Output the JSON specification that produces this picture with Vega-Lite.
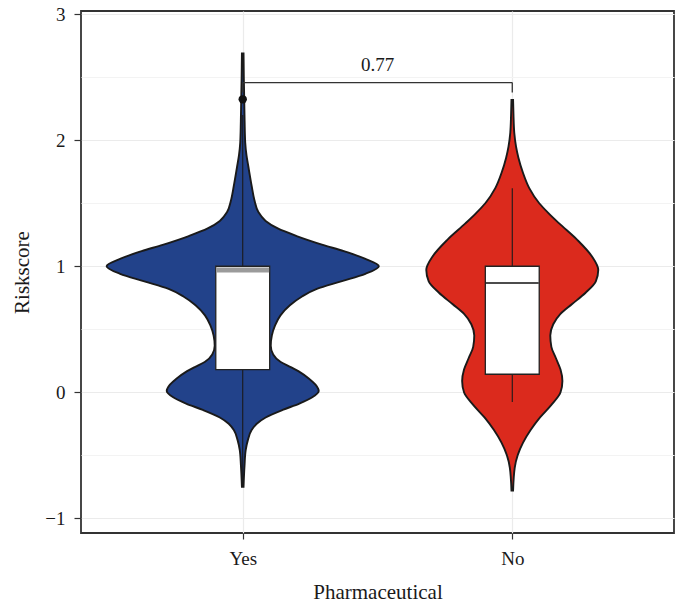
{
  "$schema": "https://vega.github.io/schema/vega-lite/v6.json",
  "width": 593,
  "height": 522,
  "autosize": {"type": "none"},
  "padding": {"left": 81, "top": 11, "right": 4, "bottom": 76},
  "background": "white",
  "config": {
    "font": "Liberation Serif",
    "view": {"stroke": "#333333", "strokeWidth": 1.8},
    "axis": {
      "domain": false,
      "tickColor": "#333333",
      "tickWidth": 1.2,
      "labelColor": "#1a1a1a",
      "labelFontSize": 19,
      "labelFont": "Liberation Serif",
      "titleFont": "Liberation Serif",
      "titleFontSize": 21,
      "titleFontWeight": "normal",
      "titleColor": "#1a1a1a",
      "gridColor": "#ebebeb",
      "gridWidth": 1.2
    },
    "axisX": {"tickSize": 6, "labelPadding": 10, "titlePadding": 13},
    "axisY": {"tickSize": 7, "labelPadding": 9, "titlePadding": 12}
  },
  "datasets": {
    "violin": [
      {"group": "Yes", "score": 2.69, "half": 0.003},
      {"group": "Yes", "score": 2.5, "half": 0.004},
      {"group": "Yes", "score": 2.32, "half": 0.0056},
      {"group": "Yes", "score": 2.15, "half": 0.007},
      {"group": "Yes", "score": 1.98, "half": 0.0093},
      {"group": "Yes", "score": 1.88, "half": 0.014},
      {"group": "Yes", "score": 1.79, "half": 0.021},
      {"group": "Yes", "score": 1.64, "half": 0.033},
      {"group": "Yes", "score": 1.52, "half": 0.044},
      {"group": "Yes", "score": 1.43, "half": 0.058},
      {"group": "Yes", "score": 1.36, "half": 0.085},
      {"group": "Yes", "score": 1.3, "half": 0.13},
      {"group": "Yes", "score": 1.24, "half": 0.2},
      {"group": "Yes", "score": 1.17, "half": 0.297},
      {"group": "Yes", "score": 1.12, "half": 0.375},
      {"group": "Yes", "score": 1.06, "half": 0.453},
      {"group": "Yes", "score": 1.0, "half": 0.505},
      {"group": "Yes", "score": 0.94, "half": 0.455},
      {"group": "Yes", "score": 0.88, "half": 0.365},
      {"group": "Yes", "score": 0.82, "half": 0.275},
      {"group": "Yes", "score": 0.76, "half": 0.22},
      {"group": "Yes", "score": 0.69, "half": 0.175},
      {"group": "Yes", "score": 0.61, "half": 0.14},
      {"group": "Yes", "score": 0.53, "half": 0.12},
      {"group": "Yes", "score": 0.45, "half": 0.108},
      {"group": "Yes", "score": 0.37, "half": 0.104},
      {"group": "Yes", "score": 0.3, "half": 0.113},
      {"group": "Yes", "score": 0.24, "half": 0.141},
      {"group": "Yes", "score": 0.2, "half": 0.178},
      {"group": "Yes", "score": 0.16, "half": 0.212},
      {"group": "Yes", "score": 0.11, "half": 0.245},
      {"group": "Yes", "score": 0.06, "half": 0.27},
      {"group": "Yes", "score": 0.01, "half": 0.282},
      {"group": "Yes", "score": -0.04, "half": 0.258},
      {"group": "Yes", "score": -0.09, "half": 0.21},
      {"group": "Yes", "score": -0.14, "half": 0.148},
      {"group": "Yes", "score": -0.2, "half": 0.085},
      {"group": "Yes", "score": -0.25, "half": 0.052},
      {"group": "Yes", "score": -0.3, "half": 0.033},
      {"group": "Yes", "score": -0.38, "half": 0.019},
      {"group": "Yes", "score": -0.46, "half": 0.011},
      {"group": "Yes", "score": -0.58, "half": 0.0067},
      {"group": "Yes", "score": -0.75, "half": 0.003},
      {"group": "No", "score": 2.32, "half": 0.003},
      {"group": "No", "score": 2.2, "half": 0.0045},
      {"group": "No", "score": 2.06, "half": 0.0074},
      {"group": "No", "score": 1.95, "half": 0.014},
      {"group": "No", "score": 1.86, "half": 0.023},
      {"group": "No", "score": 1.74, "half": 0.04},
      {"group": "No", "score": 1.62, "half": 0.063},
      {"group": "No", "score": 1.5, "half": 0.1},
      {"group": "No", "score": 1.42, "half": 0.135},
      {"group": "No", "score": 1.34, "half": 0.174},
      {"group": "No", "score": 1.21, "half": 0.241},
      {"group": "No", "score": 1.08, "half": 0.295},
      {"group": "No", "score": 0.97, "half": 0.319},
      {"group": "No", "score": 0.88, "half": 0.31},
      {"group": "No", "score": 0.79, "half": 0.272},
      {"group": "No", "score": 0.7, "half": 0.222},
      {"group": "No", "score": 0.62, "half": 0.178},
      {"group": "No", "score": 0.54, "half": 0.152},
      {"group": "No", "score": 0.45, "half": 0.141},
      {"group": "No", "score": 0.36, "half": 0.145},
      {"group": "No", "score": 0.27, "half": 0.162},
      {"group": "No", "score": 0.18, "half": 0.179},
      {"group": "No", "score": 0.09, "half": 0.186},
      {"group": "No", "score": 0.0, "half": 0.179},
      {"group": "No", "score": -0.1, "half": 0.145},
      {"group": "No", "score": -0.2, "half": 0.103},
      {"group": "No", "score": -0.3, "half": 0.068},
      {"group": "No", "score": -0.4, "half": 0.04},
      {"group": "No", "score": -0.5, "half": 0.02},
      {"group": "No", "score": -0.6, "half": 0.009},
      {"group": "No", "score": -0.78, "half": 0.003}
    ],
    "box": [
      {"group": "Yes", "lower": -0.75, "q1": 0.18, "median": 0.97, "q3": 1.0, "upper": 2.2},
      {"group": "No", "lower": -0.077, "q1": 0.143, "median": 0.867, "q3": 1.0, "upper": 1.62}
    ],
    "outliers": [
      {"group": "Yes", "score": 2.325}
    ],
    "bracket": [
      {"xa": 1, "xb": 2, "ya": 2.458, "yb": 2.458},
      {"xa": 1, "xb": 1, "ya": 2.379, "yb": 2.458},
      {"xa": 2, "xb": 2, "ya": 2.379, "yb": 2.458}
    ],
    "pvalue": [
      {"label": "0.77", "xm": 1.5, "ym": 2.6}
    ]
  },
  "layer": [
    {
      "data": {"name": "violin"},
      "transform": [
        {"calculate": "datum.group === 'Yes' ? 1 : 2", "as": "pos"},
        {"calculate": "datum.pos - datum.half", "as": "lo"},
        {"calculate": "datum.pos + datum.half", "as": "hi"}
      ],
      "mark": {"type": "area", "orient": "horizontal", "interpolate": "monotone", "stroke": "#1a1a1a", "strokeWidth": 1.9, "fillOpacity": 1},
      "encoding": {
        "x": {
          "field": "lo", "type": "quantitative", "title": "Pharmaceutical",
          "scale": {"domain": [0.4, 2.6], "nice": false, "zero": false},
          "axis": {
            "values": [1, 2],
            "labelExpr": "datum.value === 1 ? 'Yes' : 'No'"
          }
        },
        "x2": {"field": "hi"},
        "y": {
          "field": "score", "type": "quantitative", "title": "Riskscore",
          "scale": {"domain": [-1.117, 3.026], "nice": false, "zero": false},
          "axis": {
            "values": [-1, -0.5, 0, 0.5, 1, 1.5, 2, 2.5, 3],
            "labelExpr": "datum.value % 1 === 0 ? format(datum.value, 'd') : ''",
            "tickOpacity": {"condition": {"test": "datum.value % 1 !== 0", "value": 0}, "value": 1},
            "gridColor": {"condition": {"test": "datum.value % 1 !== 0", "value": "#f3f3f3"}, "value": "#ebebeb"}
          }
        },
        "fill": {"field": "group", "type": "nominal", "scale": {"domain": ["Yes", "No"], "range": ["#22428a", "#db2a1d"]}, "legend": null}
      }
    },
    {
      "data": {"name": "box"},
      "transform": [
        {"calculate": "datum.group === 'Yes' ? 1 : 2", "as": "pos"}
      ],
      "mark": {"type": "rule", "color": "#1a1a1a", "strokeWidth": 1.1},
      "encoding": {
        "x": {"field": "pos", "type": "quantitative", "title": "Pharmaceutical"},
        "y": {"field": "lower", "type": "quantitative", "title": "Riskscore"},
        "y2": {"field": "upper"}
      }
    },
    {
      "data": {"name": "box"},
      "transform": [
        {"calculate": "datum.group === 'Yes' ? 1 : 2", "as": "pos"},
        {"calculate": "datum.pos - 0.1", "as": "bl"},
        {"calculate": "datum.pos + 0.1", "as": "br"}
      ],
      "mark": {"type": "rect", "fill": "white", "stroke": "#222222", "strokeWidth": 1.3},
      "encoding": {
        "x": {"field": "bl", "type": "quantitative", "title": "Pharmaceutical"},
        "x2": {"field": "br"},
        "y": {"field": "q1", "type": "quantitative", "title": "Riskscore"},
        "y2": {"field": "q3"}
      }
    },
    {
      "data": {"name": "box"},
      "transform": [
        {"calculate": "datum.group === 'Yes' ? 1 : 2", "as": "pos"},
        {"calculate": "datum.pos - 0.098", "as": "bl"},
        {"calculate": "datum.pos + 0.098", "as": "br"}
      ],
      "mark": {"type": "rule"},
      "encoding": {
        "x": {"field": "bl", "type": "quantitative", "title": "Pharmaceutical"},
        "x2": {"field": "br"},
        "y": {"field": "median", "type": "quantitative", "title": "Riskscore"},
        "stroke": {"condition": {"test": "datum.group === 'Yes'", "value": "#9b9b9b"}, "value": "#111111"},
        "strokeWidth": {"condition": {"test": "datum.group === 'Yes'", "value": 5}, "value": 1.3}
      }
    },
    {
      "data": {"name": "outliers"},
      "transform": [
        {"calculate": "datum.group === 'Yes' ? 1 : 2", "as": "pos"}
      ],
      "mark": {"type": "point", "filled": true, "color": "#111111", "size": 70, "opacity": 1},
      "encoding": {
        "x": {"field": "pos", "type": "quantitative", "title": "Pharmaceutical"},
        "y": {"field": "score", "type": "quantitative", "title": "Riskscore"}
      }
    },
    {
      "data": {"name": "bracket"},
      "mark": {"type": "rule", "color": "#333333", "strokeWidth": 1.3},
      "encoding": {
        "x": {"field": "xa", "type": "quantitative", "title": "Pharmaceutical"},
        "x2": {"field": "xb"},
        "y": {"field": "ya", "type": "quantitative", "title": "Riskscore"},
        "y2": {"field": "yb"}
      }
    },
    {
      "data": {"name": "pvalue"},
      "mark": {"type": "text", "font": "Liberation Serif", "fontSize": 19, "color": "#1a1a1a", "baseline": "middle", "align": "center"},
      "encoding": {
        "x": {"field": "xm", "type": "quantitative", "title": "Pharmaceutical"},
        "y": {"field": "ym", "type": "quantitative", "title": "Riskscore"},
        "text": {"field": "label"}
      }
    }
  ]
}
